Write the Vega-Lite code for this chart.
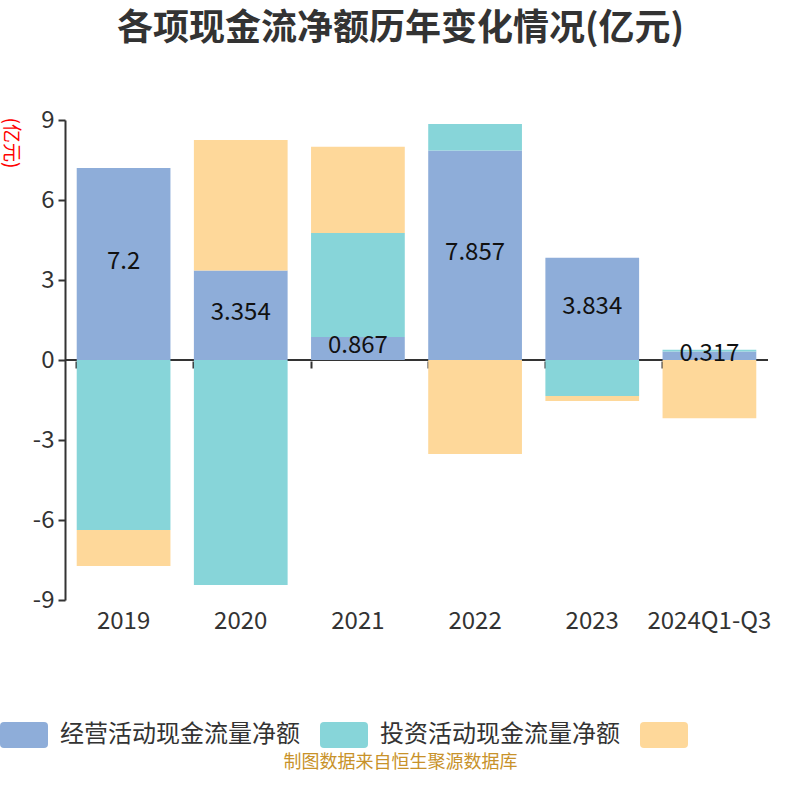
{
  "$schema": "https://vega.github.io/schema/vega-lite/v6.json",
  "autosize": {"type": "none"},
  "width": 703,
  "height": 480,
  "padding": {"left": 65, "top": 120, "right": 32, "bottom": 200},
  "background": "white",
  "config": {
    "font": "Noto Sans CJK SC",
    "view": {"stroke": null}
  },
  "title": {
    "text": "各项现金流净额历年变化情况(亿元)",
    "fontSize": 36,
    "fontWeight": "bold",
    "color": "#333333",
    "anchor": "middle",
    "offset": 60,
    "dx": -16,
    "font": "Noto Sans CJK SC"
  },
  "data": {
    "values": [
      {"year": "2019", "series": "经营活动现金流量净额", "k": 1, "value": 7.2},
      {"year": "2019", "series": "投资活动现金流量净额", "k": 2, "value": -6.375},
      {"year": "2019", "series": "筹资活动现金流量净额", "k": 3, "value": -1.35},
      {"year": "2020", "series": "经营活动现金流量净额", "k": 1, "value": 3.354},
      {"year": "2020", "series": "投资活动现金流量净额", "k": 2, "value": -8.44},
      {"year": "2020", "series": "筹资活动现金流量净额", "k": 3, "value": 4.9},
      {"year": "2021", "series": "经营活动现金流量净额", "k": 1, "value": 0.867},
      {"year": "2021", "series": "投资活动现金流量净额", "k": 2, "value": 3.9},
      {"year": "2021", "series": "筹资活动现金流量净额", "k": 3, "value": 3.23},
      {"year": "2022", "series": "经营活动现金流量净额", "k": 1, "value": 7.857},
      {"year": "2022", "series": "投资活动现金流量净额", "k": 2, "value": 0.99},
      {"year": "2022", "series": "筹资活动现金流量净额", "k": 3, "value": -3.525},
      {"year": "2023", "series": "经营活动现金流量净额", "k": 1, "value": 3.834},
      {"year": "2023", "series": "投资活动现金流量净额", "k": 2, "value": -1.35},
      {"year": "2023", "series": "筹资活动现金流量净额", "k": 3, "value": -0.19},
      {"year": "2024Q1-Q3", "series": "经营活动现金流量净额", "k": 1, "value": 0.317},
      {"year": "2024Q1-Q3", "series": "投资活动现金流量净额", "k": 2, "value": 0.07},
      {"year": "2024Q1-Q3", "series": "筹资活动现金流量净额", "k": 3, "value": -2.18}
    ]
  },
  "resolve": {"axis": {"x": "independent"}},
  "layer": [
    {
      "mark": {"type": "rule", "color": "#333333", "strokeWidth": 2},
      "encoding": {"y": {"datum": 0, "type": "quantitative"}}
    },
    {
      "mark": {"type": "bar"},
      "encoding": {
        "x": {
          "field": "year",
          "type": "nominal",
          "sort": null,
          "scale": {"paddingInner": 0.2, "paddingOuter": 0.1},
          "axis": {
            "title": "制图数据来自恒生聚源数据库",
            "titleColor": "#c8922a",
            "titleFontSize": 18,
            "titleFontWeight": "normal",
            "titleX": 335,
            "titleY": 153,
            "titleAnchor": null,
            "titleAlign": "center",
            "labelAngle": 0,
            "labelFontSize": 24,
            "labelColor": "#333333",
            "labelPadding": 9,
            "domain": false,
            "ticks": false,
            "grid": false
          }
        },
        "y": {
          "field": "value",
          "type": "quantitative",
          "stack": "zero",
          "scale": {"domain": [-9, 9], "nice": false},
          "axis": {
            "values": [-9, -6, -3, 0, 3, 6, 9],
            "labelExpr": "'' + datum.value",
            "title": "(亿元)",
            "titleColor": "#ff0000",
            "titleFontSize": 19,
            "titleFontWeight": "normal",
            "titleAngle": 90,
            "titleAlign": "left",
            "titleBaseline": "middle",
            "titleX": -55,
            "titleY": -3,
            "labelFontSize": 24,
            "labelColor": "#333333",
            "labelPadding": 4,
            "domainColor": "#333333",
            "domainWidth": 2,
            "tickColor": "#333333",
            "tickSize": 7,
            "tickWidth": 2,
            "gridColor": "#cccccc",
            "gridWidth": 1.5
          }
        },
        "color": {
          "field": "series",
          "type": "nominal",
          "scale": {
            "domain": ["经营活动现金流量净额", "投资活动现金流量净额", "筹资活动现金流量净额"],
            "range": ["#8eadd9", "#87d5d9", "#fed89a"]
          },
          "legend": {
            "orient": "none",
            "legendX": -65,
            "legendY": 591,
            "direction": "horizontal",
            "columns": 3,
            "title": null,
            "symbolType": "M-0.833,-0.54H0.833Q1,-0.54 1,-0.373V0.373Q1,0.54 0.833,0.54H-0.833Q-1,0.54 -1,0.373V-0.373Q-1,-0.54 -0.833,-0.54Z",
            "symbolSize": 2304,
            "symbolStrokeWidth": 0,
            "symbolOpacity": 1,
            "labelFontSize": 24,
            "labelColor": "#333333",
            "labelOffset": 12,
            "labelLimit": 260,
            "columnPadding": 20,
            "labelExpr": "datum.label == '筹资活动现金流量净额' ? '' : datum.label"
          }
        },
        "order": {"field": "k", "type": "quantitative"}
      }
    },
    {
      "transform": [
        {"filter": "datum.k == 1"},
        {"calculate": "datum.value / 2", "as": "mid"}
      ],
      "mark": {"type": "text", "fontSize": 24, "color": "#111111", "baseline": "middle", "dy": -2},
      "encoding": {
        "x": {
          "field": "year",
          "type": "nominal",
          "sort": null,
          "axis": {
            "title": null,
            "labels": false,
            "domain": false,
            "grid": false,
            "ticks": true,
            "bandPosition": 0,
            "tickColor": "#333333",
            "tickWidth": 2,
            "tickSize": 7,
            "offset": -248
          }
        },
        "y": {"field": "mid", "type": "quantitative"},
        "text": {"field": "value", "type": "quantitative"}
      }
    }
  ]
}
